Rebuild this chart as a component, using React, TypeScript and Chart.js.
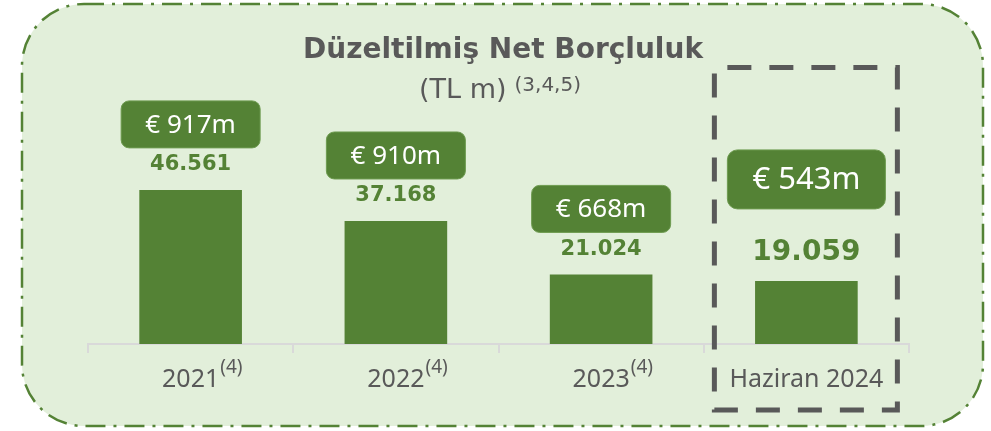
import React, { useEffect, useRef } from "react";
import { Chart, registerables } from "chart.js";

Chart.register(...registerables);

// ---- data ----
const categories = ["2021", "2022", "2023", "Haziran 2024"];
const categoryNotes = ["(4)", "(4)", "(4)", ""];
const netDebtTL = [46561, 37168, 21024, 19059];
const euroLabels = ["€ 917m", "€ 910m", "€ 668m", "€ 543m"];
const titleText = "Düzeltilmiş Net Borçluluk";
const subtitleText = "(TL m)";
const subtitleNote = "(3,4,5)";
const highlightIndex = 3;

// ---- styles ----
const GREEN = "#548235";
const BG = "#E2EFDA";
const GRAY = "#595959";
const AXIS = "#D9D9D9";
const BOLD_FONT = "DejaVu Sans";
const REG_FONT = "Noto Sans";

function formatTR(v: number): string {
  const s = Math.round(v).toString();
  return s.replace(/\B(?=(\d{3})+(?!\d))/g, ".");
}

const decorPlugin = {
  id: "decor",
  beforeDraw(chart: any) {
    const ctx: CanvasRenderingContext2D = chart.ctx;
    ctx.save();
    ctx.fillStyle = "#ffffff";
    ctx.fillRect(0, 0, chart.width, chart.height);
    ctx.beginPath();
    ctx.roundRect(22, 4, 961, 422, 62);
    ctx.fillStyle = BG;
    ctx.fill();
    ctx.setLineDash([20, 8, 3, 8]);
    ctx.lineWidth = 2.5;
    ctx.strokeStyle = GREEN;
    ctx.stroke();
    ctx.restore();
  },
  afterDatasetsDraw(chart: any) {
    const ctx: CanvasRenderingContext2D = chart.ctx;
    const xs = chart.scales.x;
    const meta = chart.getDatasetMeta(0);
    ctx.save();

    // Title
    const cxTitle = 503;
    ctx.fillStyle = GRAY;
    ctx.textAlign = "center";
    ctx.textBaseline = "alphabetic";
    ctx.font = `bold 28px "${BOLD_FONT}"`;
    ctx.fillText(titleText, cxTitle, 58);

    // Subtitle with superscript
    ctx.font = `27px "${BOLD_FONT}"`;
    const wSub = ctx.measureText(subtitleText).width;
    ctx.font = `20px "${BOLD_FONT}"`;
    const wNote = ctx.measureText(subtitleNote).width;
    const gap = 8;
    const startX = 500 - (wSub + gap + wNote) / 2;
    ctx.textAlign = "left";
    ctx.font = `27px "${BOLD_FONT}"`;
    ctx.fillText(subtitleText, startX, 98);
    ctx.font = `20px "${BOLD_FONT}"`;
    ctx.fillText(subtitleNote, startX + wSub + gap, 91);

    // Category superscripts
    const tickFont = `25px "${REG_FONT}"`;
    categories.forEach((c, i) => {
      const note = categoryNotes[i];
      if (!note) return;
      const cx = xs.getPixelForValue(i);
      ctx.font = tickFont;
      const w = ctx.measureText(c).width;
      ctx.font = `19px "${REG_FONT}"`;
      ctx.fillStyle = GRAY;
      ctx.textAlign = "left";
      ctx.fillText(note, cx + w / 2 + 1, 373);
    });

    // Value labels and euro boxes
    meta.data.forEach((bar: any, i: number) => {
      const cx = bar.x;
      const top = bar.y;
      const hi = i === highlightIndex;
      // value label
      ctx.fillStyle = GREEN;
      ctx.textAlign = "center";
      ctx.textBaseline = "middle";
      ctx.font = `bold ${hi ? 28 : 21}px "${BOLD_FONT}"`;
      ctx.fillText(formatTR(netDebtTL[i]), cx, top - (hi ? 28 : 25));
      // euro box
      const bw = hi ? 158 : 139;
      const bh = hi ? 59 : 47;
      const bottom = top - (hi ? 72 : 42);
      ctx.beginPath();
      ctx.roundRect(cx - bw / 2, bottom - bh, bw, bh, hi ? 10 : 8);
      ctx.fillStyle = GREEN;
      ctx.fill();
      ctx.lineWidth = 1;
      ctx.strokeStyle = "#6E9B50";
      ctx.stroke();
      ctx.fillStyle = "#ffffff";
      ctx.font = `${hi ? 31 : 26}px "${REG_FONT}"`;
      ctx.textBaseline = "middle";
      ctx.fillText(euroLabels[i], cx, bottom - bh / 2 + 1);
    });

    // Dashed highlight frame around the last category
    const hx = xs.getPixelForValue(highlightIndex);
    ctx.beginPath();
    ctx.rect(hx - 92, 67.5, 183, 342.5);
    ctx.setLineDash([24, 18]);
    ctx.lineDashOffset = 29;
    ctx.lineWidth = 5;
    ctx.strokeStyle = GRAY;
    ctx.stroke();

    ctx.restore();
  },
};

export default function App() {
  const ref = useRef<HTMLCanvasElement>(null);
  useEffect(() => {
    const canvas = ref.current as HTMLCanvasElement;
    const chart = new Chart(canvas, {
      type: "bar",
      data: {
        labels: categories,
        datasets: [
          {
            data: netDebtTL,
            backgroundColor: GREEN,
            borderWidth: 0,
            barPercentage: 0.5,
            categoryPercentage: 1,
          },
        ],
      },
      options: {
        responsive: false,
        animation: false,
        devicePixelRatio: 1,
        layout: { padding: { top: 13, left: 88, right: 82, bottom: 0 } },
        plugins: {
          legend: { display: false },
          tooltip: { enabled: false },
          title: { display: false },
        },
        scales: {
          y: { display: false, min: 0, max: 100000 },
          x: {
            grid: {
              display: true,
              drawOnChartArea: false,
              drawTicks: true,
              tickLength: 9,
              color: AXIS,
              lineWidth: 2,
              offset: true,
            },
            border: { display: true, color: AXIS, width: 2 },
            ticks: {
              color: GRAY,
              font: { family: REG_FONT, size: 25 },
              padding: 12,
              maxRotation: 0,
              autoSkip: false,
            },
            afterFit: (s: any) => {
              s.height = 87;
            },
          },
        },
      } as any,
      plugins: [decorPlugin],
    });
    return () => chart.destroy();
  }, []);
  return (
    <div style={{ position: "absolute", left: 0, top: 0 }}>
      <canvas ref={ref} width={991} height={431} style={{ display: "block" }} />
    </div>
  );
}
